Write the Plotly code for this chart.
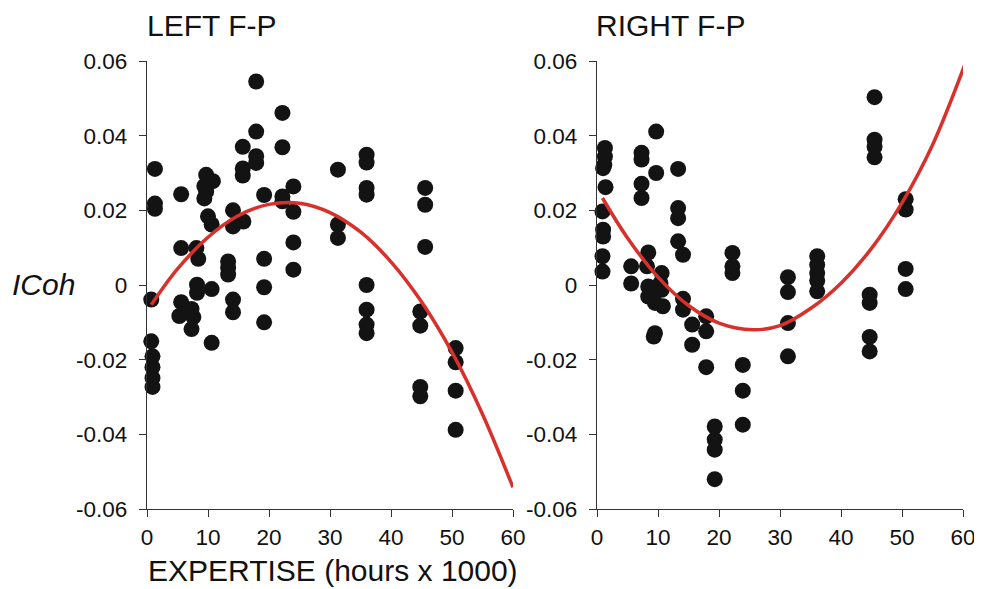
import plotly.graph_objects as go

# ---------------- data ----------------
left_x = [1.3, 1.3, 1.3, 0.7, 0.7, 0.9, 0.9, 0.9, 0.9,
          5.6, 5.6, 5.6, 5.3,
          8.1, 8.4, 8.2, 8.2, 7.3, 7.6, 7.3,
          9.7, 10.8, 9.4, 9.7, 9.4, 10.0, 10.6, 10.6, 10.6,
          14.1, 14.1, 13.3, 13.3, 13.3, 14.1, 14.1,
          15.7, 15.7, 15.7, 15.8,
          17.9, 17.9, 17.9, 17.9,
          19.2, 19.2, 19.2, 19.2,
          22.2, 22.2, 22.2, 22.2,
          24.0, 24.0, 24.0, 24.0,
          31.3, 31.3, 31.3,
          36.0, 36.0, 36.0, 36.0, 36.0, 36.0, 36.0, 36.0,
          45.6, 45.6, 45.6, 44.8, 44.8, 44.8, 44.8,
          50.6, 50.6, 50.6, 50.6]
left_y = [0.0311, 0.0218, 0.0204, -0.0039, -0.0151, -0.0191, -0.0220, -0.0249, -0.0273,
          0.0243, 0.0099, -0.0046, -0.0083,
          0.0099, 0.0070, 0.0001, -0.0021, -0.0064, -0.0086, -0.0118,
          0.0295, 0.0278, 0.0265, 0.0250, 0.0232, 0.0184, 0.0162, -0.0011, -0.0155,
          0.0200, 0.0157, 0.0063, 0.0046, 0.0028, -0.0039, -0.0073,
          0.0370, 0.0312, 0.0293, 0.0170,
          0.0545, 0.0411, 0.0345, 0.0327,
          0.0241, 0.0070, -0.0006, -0.0100,
          0.0461, 0.0369, 0.0237, 0.0224,
          0.0264, 0.0196, 0.0114, 0.0041,
          0.0309, 0.0162, 0.0126,
          0.0349, 0.0328, 0.0260, 0.0242, 0.0000, -0.0066, -0.0106, -0.0129,
          0.0260, 0.0215, 0.0102, -0.0071, -0.0109, -0.0273, -0.0298,
          -0.0169, -0.0207, -0.0283, -0.0388]

right_x = [1.3, 1.3, 1.2, 1.0, 1.4, 0.9, 1.0, 1.0, 0.9, 0.9,
           5.6, 5.6,
           7.3, 7.3, 7.3, 7.3,
           8.4, 8.2, 8.4, 8.4, 10.6, 10.4, 10.6, 9.5, 10.8, 9.5, 9.3,
           9.7, 9.7,
           13.3, 13.3, 13.3, 13.3, 14.1, 14.1, 14.1,
           15.6, 15.6,
           17.9, 17.9, 17.9,
           19.3, 19.3, 19.3, 19.3,
           22.2, 22.2, 22.2,
           23.9, 23.9, 23.9,
           31.3, 31.3, 31.3, 31.3,
           36.1, 36.1, 36.1, 36.1, 36.1,
           45.5, 45.5, 45.5, 45.5, 44.7, 44.7, 44.7, 44.7,
           50.6, 50.6, 50.6, 50.6]
right_y = [0.0367, 0.0344, 0.0322, 0.0313, 0.0262, 0.0197, 0.0148, 0.0130, 0.0077, 0.0036,
           0.0050, 0.0004,
           0.0354, 0.0336, 0.0271, 0.0233,
           0.0087, 0.0050, -0.0004, -0.0031, 0.0032, 0.0005, -0.0013, -0.0048, -0.0057, -0.0129, -0.0138,
           0.0411, 0.0300,
           0.0311, 0.0206, 0.0179, 0.0117, 0.0081, -0.0037, -0.0066,
           -0.0106, -0.0160,
           -0.0084, -0.0124, -0.0220,
           -0.0379, -0.0414, -0.0441, -0.0520,
           0.0086, 0.0050, 0.0032,
           -0.0214, -0.0283, -0.0374,
           0.0021, -0.0019, -0.0102, -0.0191,
           0.0077, 0.0054, 0.0032, 0.0012, -0.0017,
           0.0503, 0.0389, 0.0370, 0.0342, -0.0026, -0.0048, -0.0139, -0.0178,
           0.0230, 0.0202, 0.0043, -0.0011]

# fitted trend curves
left_fit_x = [0.7, 5, 10, 15, 20, 25, 30, 35, 40, 45, 50, 55, 60]
left_fit_y = [-0.0053, 0.0043, 0.0128, 0.0186, 0.0216, 0.0219, 0.0194, 0.0142, 0.0062,
              -0.0045, -0.0180, -0.0346, -0.0542]
right_fit_x = [0.9, 5, 10, 15, 20, 25.6, 30, 35, 40, 45, 50, 55, 60.3]
right_fit_y = [0.0233, 0.0126, 0.0021, -0.0055, -0.0102, -0.0120, -0.0109, -0.0063, 0.0005,
               0.0098, 0.0220, 0.0375, 0.0590]

x_ticks = [0, 10, 20, 30, 40, 50, 60]
y_ticks = [-0.06, -0.04, -0.02, 0, 0.02, 0.04, 0.06]
y_tick_labels = ["-0.06", "-0.04", "-0.02", "0", "0.02", "0.04", "0.06"]

# ---------------- figure ----------------
W, H = 982, 589
OX, OY = 8, 8  # page body margin offset
FONT = "Liberation Sans, Arial, sans-serif"
DOT = "#131313"
RED = "#d8312b"
AX = "#333333"


def px_x(p):
    return (p - OX) / W


def px_y(p):
    return 1 - (p - OY) / H


fig = go.Figure()

fig.add_trace(go.Scatter(x=left_x, y=left_y, mode="markers", xaxis="x", yaxis="y",
                         marker=dict(size=16, color=DOT, line=dict(width=0)),
                         cliponaxis=False, showlegend=False))
fig.add_trace(go.Scatter(x=left_fit_x, y=left_fit_y, mode="lines", xaxis="x", yaxis="y",
                         line=dict(color=RED, width=3.5, shape="spline"),
                         cliponaxis=False, showlegend=False))
fig.add_trace(go.Scatter(x=right_x, y=right_y, mode="markers", xaxis="x2", yaxis="y2",
                         marker=dict(size=16, color=DOT, line=dict(width=0)),
                         cliponaxis=False, showlegend=False))
fig.add_trace(go.Scatter(x=right_fit_x, y=right_fit_y, mode="lines", xaxis="x2", yaxis="y2",
                         line=dict(color=RED, width=3.5, shape="spline"),
                         cliponaxis=False, showlegend=False))

xax = dict(range=[0, 60], tickvals=x_ticks, showline=True, linecolor=AX, linewidth=1.3,
           ticks="outside", ticklen=7, tickcolor=AX, tickwidth=1.3, showgrid=False,
           zeroline=False, tickfont=dict(family=FONT, size=22.5, color="#111"),
           ticklabelstandoff=1, automargin=False)
yax = dict(range=[-0.06, 0.06], tickvals=y_ticks, ticktext=y_tick_labels, showline=True,
           linecolor=AX, linewidth=1.3, ticks="outside", ticklen=7, tickcolor=AX, tickwidth=1.3,
           showgrid=False, zeroline=False, tickfont=dict(family=FONT, size=22.5, color="#111"),
           ticklabelstandoff=7, automargin=False)

y_dom = [px_y(509), px_y(61)]
fig.update_layout(
    width=W, height=H,
    margin=dict(l=0, r=0, t=0, b=0, autoexpand=False),
    paper_bgcolor="white", plot_bgcolor="white",
    xaxis=dict(xax, domain=[px_x(147), px_x(513)], anchor="y"),
    yaxis=dict(yax, domain=y_dom, anchor="x"),
    xaxis2=dict(xax, domain=[px_x(597), px_x(963)], anchor="y2"),
    yaxis2=dict(yax, domain=y_dom, anchor="x2"),
    font=dict(family=FONT, color="#111"),
)

ann_font = dict(family=FONT, size=30, color="#111")
fig.add_annotation(text="LEFT F-P", x=px_x(145), y=px_y(26), xref="paper", yref="paper",
                   xanchor="left", yanchor="middle", showarrow=False, font=ann_font)
fig.add_annotation(text="RIGHT F-P", x=px_x(594), y=px_y(26), xref="paper", yref="paper",
                   xanchor="left", yanchor="middle", showarrow=False, font=ann_font)
fig.add_annotation(text="<i>ICoh</i>", x=px_x(10), y=px_y(284), xref="paper", yref="paper",
                   xanchor="left", yanchor="middle", showarrow=False, font=ann_font)
fig.add_annotation(text="EXPERTISE (hours x 1000)", x=px_x(146), y=px_y(570), xref="paper",
                   yref="paper", xanchor="left", yanchor="middle", showarrow=False, font=ann_font)

fig.write_html("out.html")
